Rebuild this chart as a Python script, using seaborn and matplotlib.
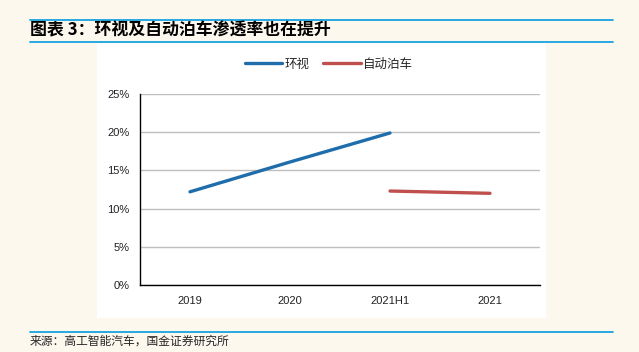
import numpy as np
import pandas as pd
import matplotlib.pyplot as plt
import matplotlib.ticker as mticker
from matplotlib.patches import Rectangle
from matplotlib.lines import Line2D
import seaborn as sns

sns.set_style("white")
plt.rcParams['font.family'] = ['Liberation Sans', 'Noto Sans CJK SC', 'DejaVu Sans']

categories = ['2019', '2020', '2021H1', '2021']
surround_view = [0.122, 0.161, 0.199, np.nan]
auto_parking = [np.nan, np.nan, 0.123, 0.120]
series_names = ['环视', '自动泊车']
colors = ['#1F6DAB', '#C0504D']

df = pd.DataFrame({'year': categories, '环视': surround_view, '自动泊车': auto_parking})
df = df.melt(id_vars='year', var_name='series', value_name='rate').dropna()

bg = '#FDF8EE'
fig = plt.figure(figsize=(6.39, 3.52), dpi=100, facecolor=bg)

# white panel and decorative lines
fig.patches.append(Rectangle((97 / 639, 1 - 318 / 352), 449 / 639, 276 / 352,
                             transform=fig.transFigure, facecolor='white',
                             edgecolor='none', zorder=-5))
for yy in [19.5, 41.5, 332]:
    fig.add_artist(Line2D([30 / 639, 613 / 639], [1 - yy / 352] * 2,
                          transform=fig.transFigure, color='#17A2E0', lw=1.3))

fig.text(30 / 639, 1 - 30 / 352, '图表 3：环视及自动泊车渗透率也在提升',
         family=['Noto Sans CJK SC'], fontweight='bold', fontsize=12.2,
         va='center', ha='left', style='italic', color='black')
fig.text(30 / 639, 1 - 341 / 352, '来源：高工智能汽车，国金证券研究所',
         family=['Noto Sans CJK SC'], fontsize=8.5, va='center', ha='left')

ax = fig.add_axes([140 / 639, 1 - 285 / 352, 400 / 639, 191 / 352])
ax.set_zorder(2)
ax.set_facecolor('none')
sns.lineplot(data=df, x='year', y='rate', hue='series', hue_order=series_names,
             palette=colors, linewidth=2.4, ax=ax, sort=False)

ax.set_xlim(-0.5, 3.5)
ax.set_ylim(0, 0.25)
ax.yaxis.set_major_locator(mticker.MultipleLocator(0.05))
ax.yaxis.set_major_formatter(mticker.PercentFormatter(1.0, decimals=0))
ax.set_xticks(range(len(categories)))
ax.set_xticklabels(categories)
ax.set_xticks(np.arange(-0.5, 3.6, 1), minor=True)
ax.tick_params(axis='x', which='major', length=0, pad=8, labelsize=8, colors='#222222')
ax.tick_params(axis='x', which='minor', length=4, width=1, direction='out', color='black')
ax.tick_params(axis='y', length=4, width=1, direction='out', labelsize=8, colors='#222222')
ax.tick_params(axis='y', color='black')
ax.grid(axis='y', color='#BFBFBF', lw=1)
ax.set_axisbelow(True)
for s in ['top', 'right']:
    ax.spines[s].set_visible(False)
for s in ['left', 'bottom']:
    ax.spines[s].set_color('black')
    ax.spines[s].set_linewidth(1)
ax.set_xlabel('')
ax.set_ylabel('')

handles, labels = ax.get_legend_handles_labels()
ax.legend(handles, labels, loc='center', bbox_to_anchor=(329 / 639, 1 - 64 / 352),
          bbox_transform=fig.transFigure, ncol=2, frameon=False,
          prop={'family': 'Noto Sans CJK SC', 'size': 9},
          handlelength=3.0, handletextpad=0.2, columnspacing=1.1)

plt.savefig('out.png', dpi=100, facecolor=bg)
